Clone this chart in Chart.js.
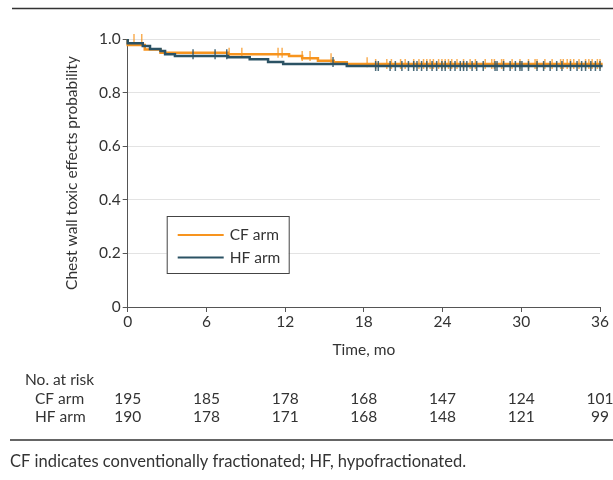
<!DOCTYPE html>
<html>
<head>
<meta charset="utf-8">
<script src="https://cdn.jsdelivr.net/npm/chart.js@4.4.1/dist/chart.umd.min.js"></script>
<style>
  html, body { margin: 0; padding: 0; background: #fff; }
  #wrap { width: 613px; height: 480px; position: relative; }
</style>
</head>
<body>
<div id="wrap"><canvas id="km"></canvas></div>
<script>
// Kaplan-Meier steps: time (mo) where the curve drops, and the new value
var cfTimes = [0, 1.3, 2.5, 7.65, 12.3, 13.3, 14.5, 15.7, 16.7, 18.7, 36.2];
var cfSurv  = [1.0, 0.978, 0.961, 0.949, 0.943, 0.937, 0.928, 0.919, 0.913, 0.907, 0.907];
var hfTimes = [0, 1.15, 1.7, 2.5, 2.85, 3.6, 7.65, 9.3, 10.7, 11.85, 16.7, 18.7, 36.2];
var hfSurv  = [1.0, 0.984, 0.974, 0.963, 0.955, 0.943, 0.937, 0.932, 0.924, 0.914, 0.907, 0.899, 0.899];

// censored observations (mo)
var cfCensor = [0.48, 1.07, 7.73, 8.7, 11.46, 11.77, 13.3, 13.9, 15.5, 18.25, 18.9, 19.75, 20.1,
  20.8, 21.15, 21.8, 22.2, 22.55, 22.8, 23.05, 23.3, 23.7, 23.95, 24.2, 24.45, 24.7, 25.1, 25.6,
  26.1, 26.5, 27.25, 27.75, 27.95, 28.5, 28.65, 29.3, 29.9, 30.55, 31.05, 31.2, 31.8, 32.35, 33.0,
  33.2, 33.5, 33.75, 34.0, 34.4, 34.9, 35.15, 35.4, 35.8, 36.0];
var hfCensor = [4.98, 6.66, 7.55, 15.65, 18.9, 19.1, 20.0, 20.4, 20.9, 21.4, 21.8, 22.05, 22.4,
  22.8, 23.2, 23.55, 23.95, 24.2, 24.6, 24.95, 25.35, 25.6, 25.85, 26.25, 26.6, 27.1, 28.0, 28.15,
  28.65, 29.15, 29.55, 29.9, 30.05, 30.55, 31.2, 31.7, 32.2, 32.7, 33.1, 33.75, 34.25, 34.6, 34.9,
  35.3, 35.65, 36.0];

// number at risk table
var riskTimes = [0, 6, 12, 18, 24, 30, 36];
var cfRisk = [195, 185, 178, 168, 147, 124, 101];
var hfRisk = [190, 178, 171, 168, 148, 121, 99];

var xTicks = [0, 6, 12, 18, 24, 30, 36];
var yTicks = [0, 0.2, 0.4, 0.6, 0.8, 1.0];

var ORANGE = '#f7941e';
var BLUE = '#2b5264';
var FONT = 'Lato, "Open Sans", sans-serif';
var TXT = '#333';

function toPoints(times, surv) {
  var pts = [];
  for (var i = 0; i < times.length; i++) pts.push({ x: times[i], y: surv[i] });
  return pts;
}

// value of the step curve at time t
function survAt(times, surv, t) {
  var s = surv[0];
  for (var i = 0; i < times.length; i++) {
    if (times[i] <= t) s = surv[i];
  }
  return s;
}

function censorPoints(cens, times, surv) {
  return cens.map(function (t) { return { x: t, y: survAt(times, surv, t) }; });
}

// risk table, rules, footnote
var extrasPlugin = {
  id: 'extras',
  afterDraw: function (chart) {
    var ctx = chart.ctx;
    var x = chart.scales.x;
    ctx.save();
    ctx.strokeStyle = '#333';
    ctx.lineWidth = 1.5;
    ctx.beginPath();
    ctx.moveTo(12, 8.5); ctx.lineTo(613, 8.5);
    ctx.moveTo(10, 440); ctx.lineTo(613, 440);
    ctx.stroke();

    ctx.fillStyle = TXT;
    ctx.font = '15.5px ' + FONT;
    ctx.textBaseline = 'middle';
    ctx.textAlign = 'left';
    ctx.fillText('No. at risk', 25, 380);
    ctx.fillText('CF arm', 35, 399);
    ctx.fillText('HF arm', 35, 417);
    ctx.textAlign = 'center';
    for (var i = 0; i < riskTimes.length; i++) {
      var px = x.getPixelForValue(riskTimes[i]);
      ctx.fillText(String(cfRisk[i]), px, 399);
      ctx.fillText(String(hfRisk[i]), px, 417);
    }
    ctx.textAlign = 'left';
    ctx.font = '16.5px ' + FONT;
    ctx.fillText('CF indicates conventionally fractionated; HF, hypofractionated.', 10, 462);
    ctx.restore();
  }
};

// boxed legend inside the plot
var boxLegend = {
  id: 'boxLegend',
  afterDatasetsDraw: function (chart) {
    var ctx = chart.ctx;
    var a = chart.chartArea;
    var left = a.left + 39, top = a.top + 177, w = 122, h = 57;
    ctx.save();
    ctx.fillStyle = '#fff';
    ctx.fillRect(left, top, w, h);
    ctx.strokeStyle = '#444';
    ctx.lineWidth = 1;
    ctx.strokeRect(left + 0.5, top + 0.5, w, h);
    var items = chart.data.datasets.filter(function (d) { return d.label; });
    ctx.font = '15.5px ' + FONT;
    ctx.textBaseline = 'middle';
    ctx.textAlign = 'left';
    items.forEach(function (d, i) {
      var y = top + 19 + i * 22.5;
      ctx.strokeStyle = d.borderColor;
      ctx.lineWidth = 2;
      ctx.beginPath();
      ctx.moveTo(left + 11, y); ctx.lineTo(left + 57, y);
      ctx.stroke();
      ctx.fillStyle = TXT;
      ctx.fillText(d.label, left + 63, y);
    });
    ctx.restore();
  }
};

var ctx = document.getElementById('km').getContext('2d');
var chart = new Chart(ctx, {
  type: 'line',
  data: {
    datasets: [
      {
        label: 'CF arm',
        data: toPoints(cfTimes, cfSurv),
        borderColor: ORANGE,
        borderWidth: 2.5,
        stepped: 'after',
        pointRadius: 0,
        clip: 6,
        order: 3
      },
      {
        label: '',
        type: 'scatter',
        data: censorPoints(cfCensor, cfTimes, cfSurv),
        pointStyle: 'line',
        rotation: 90,
        radius: 5,
        borderColor: 'rgba(247,148,30,0.75)',
        borderWidth: 1.5,
        clip: 6,
        order: 2
      },
      {
        label: 'HF arm',
        data: toPoints(hfTimes, hfSurv),
        borderColor: BLUE,
        borderWidth: 2.5,
        stepped: 'after',
        pointRadius: 0,
        clip: 6,
        order: 1
      },
      {
        label: '',
        type: 'scatter',
        data: censorPoints(hfCensor, hfTimes, hfSurv),
        pointStyle: 'line',
        rotation: 90,
        radius: 5,
        borderColor: 'rgba(43,82,100,0.85)',
        borderWidth: 1.5,
        clip: 6,
        order: 0
      }
    ]
  },
  options: {
    responsive: true,
    maintainAspectRatio: false,
    animation: false,
    layout: { padding: { left: 63, top: 39, right: 13, bottom: 113 } },
    plugins: {
      legend: { display: false },
      tooltip: { enabled: false }
    },
    scales: {
      x: {
        type: 'linear',
        min: 0,
        max: 36,
        afterBuildTicks: function (scale) {
          scale.ticks = xTicks.map(function (v) { return { value: v }; });
        },
        afterFit: function (scale) { scale.height = 60; },
        ticks: { color: TXT, font: { family: FONT, size: 15.5 }, padding: 1, maxRotation: 0 },
        grid: { drawOnChartArea: false, tickLength: 5, tickColor: '#555' },
        border: { color: '#555', width: 1 },
        title: {
          display: true,
          text: 'Time, mo',
          color: TXT,
          font: { family: FONT, size: 15.5 },
          padding: { top: 0, bottom: 8 }
        }
      },
      y: {
        min: 0,
        max: 1,
        afterBuildTicks: function (scale) {
          scale.ticks = yTicks.map(function (v) { return { value: v }; });
        },
        afterFit: function (scale) { scale.width = 127.7 - 63; },
        ticks: {
          color: TXT,
          font: { family: FONT, size: 15.5 },
          padding: 2,
          callback: function (value) { return value === 0 ? '0' : value.toFixed(1); }
        },
        grid: { color: '#e3e3e3', tickLength: 5, tickColor: '#555' },
        border: { color: '#555', width: 1 },
        title: {
          display: true,
          text: 'Chest wall toxic effects probability',
          color: TXT,
          font: { family: FONT, size: 15.5 },
          padding: { top: 0, bottom: 0 }
        }
      }
    }
  },
  plugins: [boxLegend, extrasPlugin]
});
</script>
</body>
</html>
